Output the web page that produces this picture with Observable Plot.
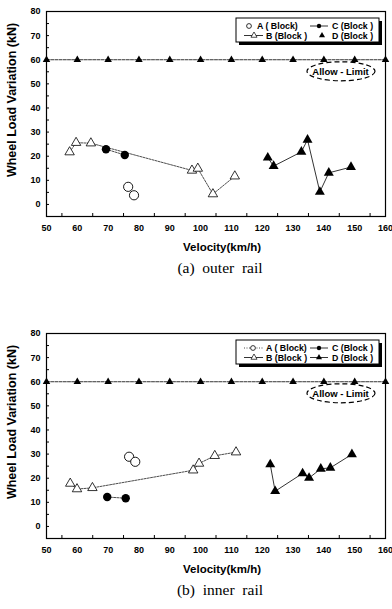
<!DOCTYPE html>
<html>
<head>
<meta charset="utf-8">
<script src="https://cdn.jsdelivr.net/npm/d3@7"></script>
<script src="https://cdn.jsdelivr.net/npm/@observablehq/plot@0.6"></script>
<style>
  html, body { margin: 0; padding: 0; background: white; }
  .panel { width: 392px; height: 322px; position: relative; }
  .panel svg { display: block; }
  .cap { width: 344px; padding-left: 48px; text-align: center; font-family: "Liberation Serif", "DejaVu Serif", serif; font-size: 15.5px; line-height: 24px; height: 24px; white-space: pre; color: black; }
</style>
</head>
<body>
<div id="root"></div>
<script>
// ---- data ----
const xTicks = [50, 60, 70, 80, 90, 100, 110, 120, 130, 140, 150, 160];
const yTicks = [0, 10, 20, 30, 40, 50, 60, 70, 80];
const xMinorTicks = [55, 65, 75, 85, 95, 105, 115, 125, 135, 145, 155];
const yMinorTicks = [-5, 0, 5, 10, 15, 20, 25, 30, 35, 40, 45, 50, 55, 60, 65, 70, 75];
const limitV = [50, 60, 70, 80, 90, 100, 110, 120, 130, 140, 150, 160];
const limitW = 60;
const allowLabel = "Allow - Limit";
const allowPos = [145.4, 55];

// (a) outer rail
const outerA_v = [76.5, 78.4];
const outerA_w = [7.3, 3.8];
const outerB_v = [57.5, 59.6, 64.4, 97.2, 99.1, 104.0, 111.1];
const outerB_w = [21.7, 25.6, 25.4, 14.1, 14.9, 4.3, 11.7];
const outerC_v = [69.3, 75.4];
const outerC_w = [22.9, 20.5];
const outerD_v = [121.8, 123.7, 132.7, 134.7, 138.7, 141.6, 148.8];
const outerD_w = [19.4, 15.9, 21.8, 26.8, 5.2, 13.1, 15.5];

// (b) inner rail
const innerA_v = [76.8, 78.8];
const innerA_w = [28.9, 26.8];
const innerB_v = [57.7, 59.9, 64.9, 97.6, 99.5, 104.6, 111.5];
const innerB_w = [17.8, 15.5, 16.0, 23.3, 26.1, 29.3, 30.8];
const innerC_v = [69.7, 75.7];
const innerC_w = [12.2, 11.7];
const innerD_v = [122.6, 124.2, 133.1, 135.2, 139.0, 142.1, 149.1];
const innerD_w = [25.7, 14.6, 22.0, 20.1, 23.9, 24.3, 29.9];

const seriesNames = ["A ( Block)", "B (Block )", "C (Block )", "D (Block )"];

const zip = (vs, ws) => vs.map((v, i) => ({v, w: ws[i]}));

function makePanel(A, B, C, D, caption, aLine, dLegendLine) {
  const limit = limitV.map(v => ({v, w: limitW}));
  const marks = [
    Plot.axisX({ticks: xTicks, tickSize: 0, tickPadding: 8, label: null, fontSize: 9}),
    Plot.axisY({ticks: yTicks, tickSize: 0, tickPadding: 6, label: null, fontSize: 9}),
    Plot.ruleX(xMinorTicks, {x: d => d, insetTop: 202, stroke: "black", strokeWidth: 1}),
    Plot.ruleY(yMinorTicks, {y: d => d, insetRight: 336, stroke: "black", strokeWidth: 1}),
    Plot.line(limit, {x: "v", y: "w", stroke: "black", strokeWidth: 0.8, strokeDasharray: "3,1.2"}),
    Plot.dot(limit, {x: "v", y: "w", symbol: "triangle", r: 2.8, fill: "black"}),
    Plot.line(B, {x: "v", y: "w", stroke: "black", strokeWidth: 0.7, strokeDasharray: "2,1.2"}),
    Plot.line(C, {x: "v", y: "w", stroke: "black", strokeWidth: 0.7, strokeDasharray: "2,1.2"}),
    Plot.line(D, {x: "v", y: "w", stroke: "black", strokeWidth: 0.8}),
  ];
  if (aLine) marks.push(Plot.line(A, {x: "v", y: "w", stroke: "black", strokeWidth: 0.7, strokeDasharray: "1,1.5"}));
  marks.push(
    Plot.dot(A, {x: "v", y: "w", r: 4.6, fill: "white", stroke: "black", strokeWidth: 0.9}),
    Plot.dot(B, {x: "v", y: "w", symbol: "triangle", r: 3.5, fill: "white", stroke: "black", strokeWidth: 0.8}),
    Plot.dot(C, {x: "v", y: "w", r: 4.2, fill: "black"}),
    Plot.dot(D, {x: "v", y: "w", symbol: "triangle", r: 3.7, fill: "black"}),
    Plot.text([allowLabel], {x: () => allowPos[0], y: () => allowPos[1], text: d => d, fontSize: 9.5, fontWeight: "bold", fill: "black"}),
    Plot.frame({stroke: "black", strokeWidth: 1.2})
  );
  const plot = Plot.plot({
    width: 392, height: 256,
    marginLeft: 46, marginRight: 7, marginTop: 11, marginBottom: 40,
    x: {domain: [50, 160]},
    y: {domain: [-5, 80]},
    style: {fontFamily: "'Liberation Sans', Arial, sans-serif", fontWeight: "bold", fontSize: "9px", color: "black", background: "white", overflow: "visible"},
    marks
  });
  const svg = d3.select(plot);
  const sx = plot.scale("x"), sy = plot.scale("y");
  // dashed ellipse round the "Allow - Limit" note
  svg.append("ellipse")
    .attr("cx", sx.apply(allowPos[0]) + 1).attr("cy", sy.apply(allowPos[1]))
    .attr("rx", 34).attr("ry", 9.5)
    .attr("fill", "none").attr("stroke", "black").attr("stroke-width", 1.2)
    .attr("stroke-dasharray", "5,3");
  // axis titles
  svg.append("text").attr("x", 222).attr("y", 251).attr("text-anchor", "middle")
    .attr("font-size", 11.5).attr("font-weight", "bold").text("Velocity(km/h)");
  svg.append("text").attr("transform", "translate(16,100) rotate(-90)").attr("text-anchor", "middle")
    .attr("font-size", 12.5).attr("font-weight", "bold").text("Wheel Load Variation (kN)");
  // legend
  const lg = svg.append("g").attr("font-size", 8.8).attr("font-weight", "bold").attr("text-anchor", "start");
  lg.append("rect").attr("x", 239).attr("y", 21).attr("width", 143).attr("height", 24).attr("fill", "black");
  lg.append("rect").attr("x", 236).attr("y", 18).attr("width", 143).attr("height", 24).attr("fill", "white").attr("stroke", "black").attr("stroke-width", 1);
  const tri = d3.symbol(d3.symbolTriangle, 16);
  const r1 = 26, r2 = 35.5;
  // A
  if (aLine) {
    lg.append("line").attr("x1", 244).attr("x2", 263).attr("y1", r1).attr("y2", r1).attr("stroke", "black").attr("stroke-width", 0.7).attr("stroke-dasharray", "1,1.5");
    lg.append("circle").attr("cx", 253).attr("cy", r1).attr("r", 2.4).attr("fill", "white").attr("stroke", "black").attr("stroke-width", 0.8);
    lg.append("text").attr("x", 266).attr("y", r1 + 3.3).text(seriesNames[0]);
  } else {
    lg.append("circle").attr("cx", 249).attr("cy", r1).attr("r", 2.4).attr("fill", "white").attr("stroke", "black").attr("stroke-width", 0.8);
    lg.append("text").attr("x", 257).attr("y", r1 + 3.3).text(seriesNames[0]);
  }
  // B
  lg.append("line").attr("x1", 244).attr("x2", 263).attr("y1", r2).attr("y2", r2).attr("stroke", "black").attr("stroke-width", 0.8);
  lg.append("path").attr("d", tri()).attr("transform", `translate(254,${r2})`).attr("fill", "white").attr("stroke", "black").attr("stroke-width", 0.7);
  lg.append("text").attr("x", 266).attr("y", r2 + 3.3).text(seriesNames[1]);
  // C
  lg.append("line").attr("x1", 310).attr("x2", 328).attr("y1", r1).attr("y2", r1).attr("stroke", "black").attr("stroke-width", 0.8);
  lg.append("circle").attr("cx", 319).attr("cy", r1).attr("r", 2.2).attr("fill", "black");
  lg.append("text").attr("x", 332).attr("y", r1 + 3.3).text(seriesNames[2]);
  // D
  if (dLegendLine) {
    lg.append("line").attr("x1", 310).attr("x2", 328).attr("y1", r2).attr("y2", r2).attr("stroke", "black").attr("stroke-width", 0.8);
    lg.append("path").attr("d", tri()).attr("transform", `translate(319,${r2})`).attr("fill", "black");
  } else {
    lg.append("path").attr("d", tri()).attr("transform", `translate(322,${r2})`).attr("fill", "black");
  }
  lg.append("text").attr("x", 332).attr("y", r2 + 3.3).text(seriesNames[3]);

  const div = document.createElement("div");
  div.className = "panel";
  div.appendChild(plot);
  const cap = document.createElement("div");
  cap.className = "cap";
  cap.textContent = caption;
  div.appendChild(cap);
  return div;
}

const root = document.getElementById("root");
root.appendChild(makePanel(zip(outerA_v, outerA_w), zip(outerB_v, outerB_w), zip(outerC_v, outerC_w), zip(outerD_v, outerD_w), "(a)  outer  rail", false, false));
root.appendChild(makePanel(zip(innerA_v, innerA_w), zip(innerB_v, innerB_w), zip(innerC_v, innerC_w), zip(innerD_v, innerD_w), "(b)  inner  rail", true, true));
</script>
</body>
</html>
